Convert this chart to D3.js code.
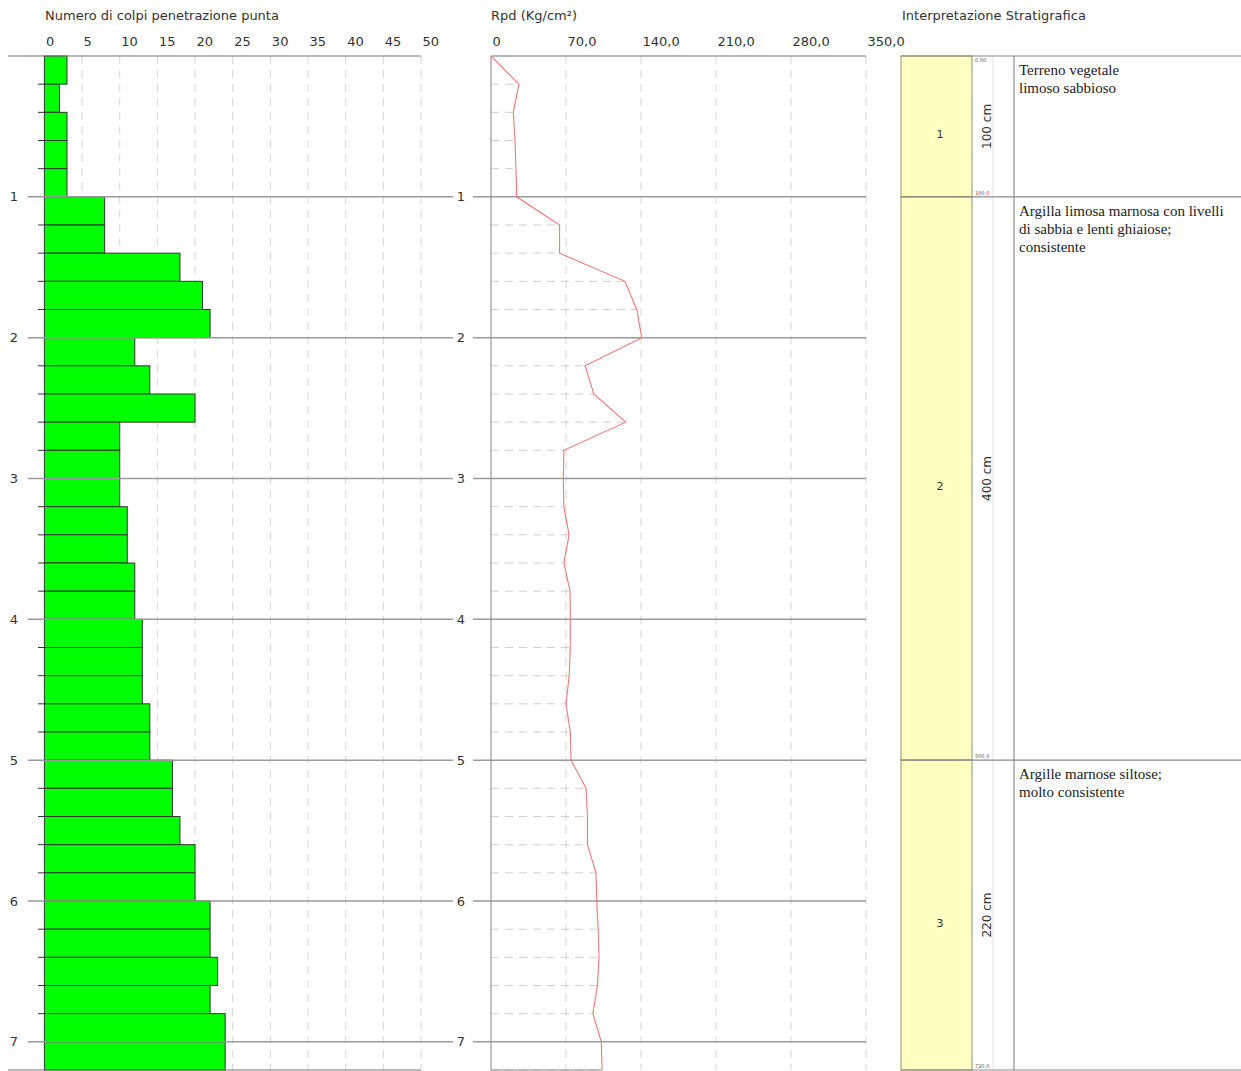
<!DOCTYPE html>
<html>
<head>
<meta charset="utf-8">
<script src="https://cdn.jsdelivr.net/npm/d3@7/dist/d3.min.js"></script>
<style>
  html, body { margin: 0; padding: 0; background: #fff; }
  svg { display: block; }
</style>
</head>
<body>
<svg id="chart" width="1241" height="1071"></svg>
<script>
// Penetrometer test: blow counts per 20 cm, dynamic resistance and stratigraphy
const step = 0.2;               // interval length, m
const maxDepth = 7.2;
const meterTicks = [1, 2, 3, 4, 5, 6, 7];

const blowTicks = [0, 5, 10, 15, 20, 25, 30, 35, 40, 45, 50];
const blows = [3, 2, 3, 3, 3, 8, 8, 18, 21, 22,
               12, 14, 20, 10, 10, 10, 11, 11, 12, 12,
               13, 13, 13, 14, 14, 17, 17, 18, 20, 20,
               22, 22, 23, 22, 24, 24];

const rpdTicks = [0, 70, 140, 210, 280, 350];
const rpdTickLabels = ["0", "70,0", "140,0", "210,0", "280,0", "350,0"];
// Rpd at the bottom of each 20 cm interval
const rpd = [26, 20.8, 22.4, 23.3, 24, 64, 64, 125, 136, 140.7,
             87.8, 96, 125.7, 68, 67.5, 68, 72.9, 68, 73.8, 74,
             74, 73, 70, 74, 74.7, 88.7, 90, 90, 98, 98.7,
             100, 100.8, 99.4, 95, 103, 103.6];

const layerIds = ["1", "2", "3"];
const layerTops = [0, 1, 5];
const layerBottoms = [1, 5, 7.2];
const layerThickness = ["100 cm", "400 cm", "220 cm"];
const layerTopLabels = ["0,00", "", ""];
const layerBottomLabels = ["100,0", "500,0", "720,0"];
const layerText = [
  ["Terreno vegetale", "limoso sabbioso"],
  ["Argilla limosa marnosa con livelli", "di sabbia e lenti ghiaiose;", "consistente"],
  ["Argille marnose siltose;", "molto consistente"]
];

const svg = d3.select("#chart");
const sans = "'DejaVu Sans', Verdana, sans-serif";
const serif = "'Liberation Serif', 'Times New Roman', serif";
const fs = 13;

const y = d3.scaleLinear().domain([0, maxDepth]).range([56, 1070]);
const xB = d3.scaleLinear().domain([0, 50]).range([44.4, 421]);
const xR = d3.scaleLinear().domain([0, 350]).range([491, 866]);

const intervals = blows.map((b, i) => ({ top: i * step, bottom: (i + 1) * step, n: b }));
const minorDepths = d3.range(1, 36).map(i => i * step).filter(d => Math.abs(d - Math.round(d)) > 1e-6);

// ---------- titles ----------
svg.append("text").attr("x", 45).attr("y", 20).text("Numero di colpi penetrazione punta")
  .attr("font-family", sans).attr("font-size", fs).attr("fill", "#333");
svg.append("text").attr("x", 491).attr("y", 20).text("Rpd (Kg/cm²)")
  .attr("font-family", sans).attr("font-size", fs).attr("fill", "#333");
svg.append("text").attr("x", 902).attr("y", 20).text("Interpretazione Stratigrafica")
  .attr("font-family", sans).attr("font-size", fs).attr("fill", "#333");

// ---------- blow count panel ----------
const gB = svg.append("g");
const axB = d3.axisTop(xB).tickValues(blowTicks).tickSize(0).tickPadding(0);
const axBg = gB.append("g").attr("transform", "translate(0,46)").call(axB);
axBg.select(".domain").remove();
axBg.selectAll("text").attr("text-anchor", "start").attr("dx", 1)
  .attr("font-family", sans).attr("font-size", fs).attr("fill", "#333");

// vertical dashed grid
gB.selectAll(".vgrid").data(blowTicks.slice(1)).join("line")
  .attr("x1", d => xB(d)).attr("x2", d => xB(d)).attr("y1", y(0)).attr("y2", y(maxDepth))
  .attr("stroke", "#d6d6d6").attr("stroke-dasharray", "8,6");

// bars
gB.selectAll(".bar").data(intervals).join("rect")
  .attr("x", xB(0)).attr("y", d => y(d.top))
  .attr("width", d => xB(d.n) - xB(0)).attr("height", d => y(d.bottom) - y(d.top))
  .attr("fill", "#00ff00").attr("stroke", "#2b3a2b").attr("stroke-width", 1);

// minor depth ticks
gB.selectAll(".mtick").data(minorDepths).join("line")
  .attr("x1", 38).attr("x2", xB(0)).attr("y1", d => y(d)).attr("y2", d => y(d))
  .attr("stroke", "#333");

// meter lines and labels
gB.selectAll(".mline").data(meterTicks).join("line")
  .attr("x1", 28).attr("x2", 453).attr("y1", d => y(d)).attr("y2", d => y(d))
  .attr("stroke", "#9a9a9a").attr("stroke-width", 1.5);
gB.selectAll(".mlab").data(meterTicks).join("text")
  .attr("x", 14).attr("y", d => y(d)).attr("dy", "0.35em").attr("text-anchor", "middle")
  .text(d => d).attr("font-family", sans).attr("font-size", fs).attr("fill", "#333");

// top and bottom frame lines
gB.append("line").attr("x1", 8).attr("x2", 421).attr("y1", y(0)).attr("y2", y(0))
  .attr("stroke", "#777").attr("stroke-width", 1.2);
gB.append("line").attr("x1", 8).attr("x2", 421).attr("y1", y(maxDepth)).attr("y2", y(maxDepth))
  .attr("stroke", "#777").attr("stroke-width", 1.2);

// ---------- Rpd panel ----------
const gR = svg.append("g");
const axR = d3.axisTop(xR).tickValues(rpdTicks).tickSize(0).tickPadding(0)
  .tickFormat((d, i) => rpdTickLabels[i]);
const axRg = gR.append("g").attr("transform", "translate(0,46)").call(axR);
axRg.select(".domain").remove();
axRg.selectAll("text").attr("text-anchor", "start").attr("dx", 1)
  .attr("font-family", sans).attr("font-size", fs).attr("fill", "#333");

gR.selectAll(".vgrid").data(rpdTicks.slice(1)).join("line")
  .attr("x1", d => xR(d)).attr("x2", d => xR(d)).attr("y1", y(0)).attr("y2", y(maxDepth))
  .attr("stroke", "#d6d6d6").attr("stroke-dasharray", "8,6");

const rpdPts = [{ d: 0, v: 0 }].concat(rpd.map((v, i) => ({ d: (i + 1) * step, v })));

// dashed guides from axis to each value
gR.selectAll(".hguide").data(rpdPts.filter(p => p.d > 0 && Math.abs(p.d - Math.round(p.d)) > 1e-6)).join("line")
  .attr("x1", xR(0)).attr("x2", p => xR(p.v)).attr("y1", p => y(p.d)).attr("y2", p => y(p.d))
  .attr("stroke", "#cfcfcf").attr("stroke-dasharray", "8,6");

gR.selectAll(".mline").data(meterTicks).join("line")
  .attr("x1", 473).attr("x2", 866).attr("y1", d => y(d)).attr("y2", d => y(d))
  .attr("stroke", "#9a9a9a").attr("stroke-width", 1.5);
gR.selectAll(".mlab").data(meterTicks).join("text")
  .attr("x", 461).attr("y", d => y(d)).attr("dy", "0.35em").attr("text-anchor", "middle")
  .text(d => d).attr("font-family", sans).attr("font-size", fs).attr("fill", "#333");

gR.append("line").attr("x1", xR(0)).attr("x2", xR(0)).attr("y1", y(0)).attr("y2", y(maxDepth))
  .attr("stroke", "#999").attr("stroke-width", 1.2);
gR.append("line").attr("x1", xR(0)).attr("x2", 866).attr("y1", y(0)).attr("y2", y(0))
  .attr("stroke", "#777").attr("stroke-width", 1.2);
gR.append("line").attr("x1", xR(0)).attr("x2", xR(rpd[rpd.length - 1])).attr("y1", y(maxDepth)).attr("y2", y(maxDepth))
  .attr("stroke", "#888").attr("stroke-width", 1.2);

gR.append("path").datum(rpdPts)
  .attr("d", d3.line().x(p => xR(p.v)).y(p => y(p.d)))
  .attr("fill", "none").attr("stroke", "#f07878").attr("stroke-width", 1.1);

// ---------- stratigraphy panel ----------
const gS = svg.append("g");
const colL = 901, colR = 972, subR = 993, txtL = 1014, panelR = 1241;
const layers = layerIds.map((id, i) => ({
  id, top: layerTops[i], bottom: layerBottoms[i], th: layerThickness[i],
  tl: layerTopLabels[i], bl: layerBottomLabels[i], lines: layerText[i]
}));

gS.selectAll(".lay").data(layers).join("rect")
  .attr("x", colL).attr("y", d => y(d.top)).attr("width", colR - colL).attr("height", d => y(d.bottom) - y(d.top))
  .attr("fill", "#ffffc2").attr("stroke", "#a3a37a").attr("stroke-width", 1.2);

gS.append("line").attr("x1", subR).attr("x2", subR).attr("y1", y(0)).attr("y2", y(maxDepth))
  .attr("stroke", "#e2e2e2");
gS.append("line").attr("x1", txtL).attr("x2", txtL).attr("y1", y(0)).attr("y2", y(maxDepth))
  .attr("stroke", "#8f8f8f").attr("stroke-width", 1.2);

const bounds = [0].concat(layerBottoms);
gS.selectAll(".bnd").data(bounds).join("line")
  .attr("x1", colL).attr("x2", panelR).attr("y1", d => y(d)).attr("y2", d => y(d))
  .attr("stroke", "#8a8a8a").attr("stroke-width", 1.2);

gS.selectAll(".lid").data(layers).join("text")
  .attr("x", 940).attr("y", d => (y(d.top) + y(d.bottom)) / 2 + 8)
  .attr("dy", "0.35em").attr("text-anchor", "middle").text(d => d.id)
  .attr("font-family", sans).attr("font-size", 11).attr("fill", "#333");

gS.selectAll(".lth").data(layers).join("text")
  .attr("transform", d => `translate(991,${(y(d.top) + y(d.bottom)) / 2}) rotate(-90)`)
  .attr("text-anchor", "middle").text(d => d.th)
  .attr("font-family", sans).attr("font-size", 12).attr("fill", "#333");

gS.selectAll(".ltl").data(layers.filter(d => d.tl)).join("text")
  .attr("x", 975).attr("y", d => y(d.top) + 6).text(d => d.tl)
  .attr("font-family", sans).attr("font-size", 5).attr("fill", "#555");
gS.selectAll(".lbl").data(layers).join("text")
  .attr("x", 975).attr("y", d => y(d.bottom) - 2).text(d => d.bl)
  .attr("font-family", sans).attr("font-size", 5).attr("fill", "#555");

layers.forEach(d => {
  gS.append("g").selectAll("text").data(d.lines).join("text")
    .attr("x", 1019).attr("y", (t, i) => y(d.top) + 19 + i * 18).text(t => t)
    .attr("font-family", serif).attr("font-size", 15).attr("fill", "#222");
});
</script>
</body>
</html>
